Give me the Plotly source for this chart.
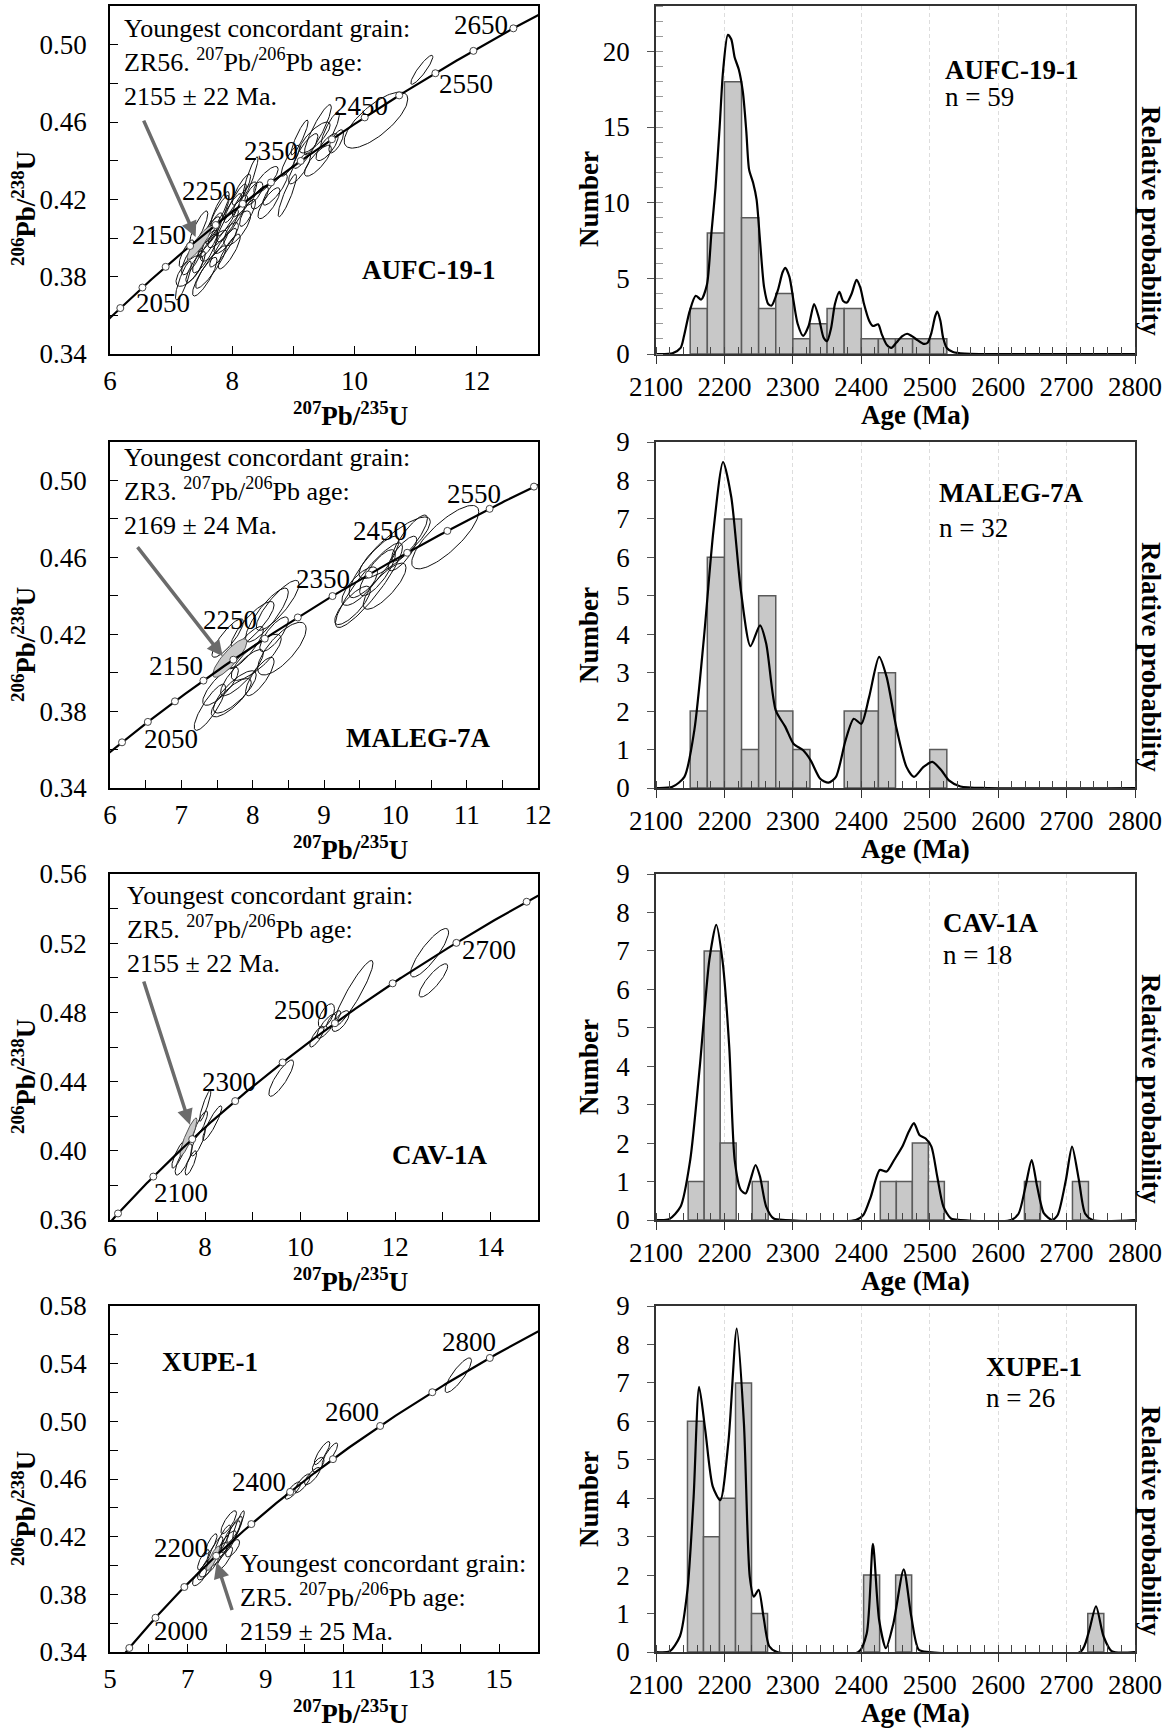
import numpy as np
import plotly.graph_objects as go

W, H = 1167, 1730
FONT = "Liberation Serif"

# U decay constants (1/yr) for the Wetherill concordia
L238 = 1.55125e-10
L235 = 9.8485e-10

samples = ["AUFC-19-1", "MALEG-7A", "CAV-1A", "XUPE-1"]
n_grains = [59, 32, 18, 26]
youngest_spot = ["ZR56", "ZR3", "ZR5", "ZR5"]
youngest_age = ["2155 ± 22", "2169 ± 24", "2155 ± 22", "2159 ± 25"]

# ---------------- histogram bins (left edge, Ma) and counts ----------------
aufc_bin_left = [2150, 2175, 2200, 2225, 2250, 2275, 2300, 2325, 2350, 2375, 2400, 2425, 2450, 2475, 2500]
aufc_counts = [3, 8, 18, 9, 3, 4, 1, 2, 3, 3, 1, 1, 1, 1, 1]
maleg_bin_left = [2150, 2175, 2200, 2225, 2250, 2275, 2300, 2375, 2400, 2425, 2500]
maleg_counts = [2, 6, 7, 1, 5, 2, 1, 2, 2, 3, 1]
cav_bin_left = [2147.0, 2170.4, 2193.8, 2240.6, 2427.8, 2451.2, 2474.6, 2498.0, 2638.4, 2708.6]
cav_counts = [1, 7, 2, 1, 1, 1, 2, 1, 1, 1]
xupe_bin_left = [2146.0, 2169.4, 2192.8, 2216.2, 2239.6, 2403.4, 2450.2, 2731.0]
xupe_counts = [6, 3, 4, 7, 1, 2, 2, 1]
bin_width = [25.0, 25.0, 23.4, 23.4]

# ---------------- relative probability curves (age Ma, height in count units) ----------------
aufc_pdf_age = [2100, 2124, 2136, 2141, 2149, 2158, 2166, 2174.5, 2181, 2187, 2193, 2198, 2205, 2210,
                2215, 2221, 2227, 2232, 2236, 2242, 2247, 2252, 2258, 2264, 2269, 2278, 2285, 2289,
                2295, 2301, 2307, 2315, 2323, 2331, 2338, 2345, 2350, 2356, 2361.5, 2368, 2373.5,
                2379, 2386, 2393, 2398.5, 2404, 2411.5, 2417, 2424.6, 2430, 2437, 2444, 2451, 2460,
                2467, 2474, 2482.6, 2491, 2497, 2502.5, 2508, 2511, 2515.6, 2519.6, 2525, 2534,
                2551, 2580, 2800]
aufc_pdf_val = [0, 0.05, 0.4, 1.2, 2.8, 3.85, 3.6, 4.6, 8.0, 11.0, 15.0, 18.7, 21.1, 20.8,
                19.6, 18.8, 17.3, 14.7, 12.2, 11.3, 10.2, 7.5, 4.4, 3.3, 3.2, 4.2, 5.4, 5.7,
                5.1, 3.5, 2.0, 1.2, 1.85, 3.3, 2.4, 1.07, 0.85, 1.74, 3.3, 4.1, 3.5,
                3.4, 4.0, 4.9, 4.4, 3.3, 2.2, 1.85, 1.96, 1.3, 0.62, 0.4, 0.74, 1.18,
                1.34, 1.18, 0.9, 0.67, 0.74, 1.4, 2.5, 2.8, 2.2, 1.07, 0.4, 0.13,
                0.02, 0, 0]
maleg_pdf_age = [2100, 2124, 2141.5, 2156, 2170, 2184, 2198, 2210, 2224, 2238, 2252, 2261, 2275,
                 2289, 2301, 2315, 2326, 2340, 2352, 2363, 2377, 2389, 2400, 2411.5, 2426, 2437,
                 2451, 2466, 2477, 2491, 2504, 2517, 2528, 2545, 2585, 2800]
maleg_pdf_val = [0, 0.03, 0.29, 1.5, 3.9, 6.7, 8.48, 7.57, 5.14, 3.69, 4.23, 3.76, 2.02,
                 1.59, 1.15, 0.98, 0.72, 0.24, 0.14, 0.29, 1.24, 1.8, 1.67, 2.37, 3.41, 2.89,
                 1.59, 0.55, 0.29, 0.55, 0.68, 0.46, 0.2, 0.04, 0, 0]
cav_pdf_age = [2100, 2119, 2136, 2150, 2164, 2178, 2188, 2197, 2207, 2215, 2224, 2231, 2238,
               2245.5, 2252, 2261, 2272, 2289, 2392, 2403, 2414, 2427, 2437, 2448, 2460, 2469.5,
               2477, 2485, 2494, 2502.5, 2511, 2520, 2531, 2545, 2619, 2630, 2640, 2649, 2657,
               2667, 2679, 2687, 2699, 2708, 2718, 2727, 2738, 2800]
cav_pdf_val = [0, 0.02, 0.35, 1.56, 3.99, 6.77, 7.68, 6.77, 4.51, 1.56, 0.78, 0.69, 1.04,
               1.43, 1.13, 0.35, 0.04, 0, 0, 0.13, 0.61, 1.3, 1.26, 1.56, 1.91, 2.3,
               2.52, 2.21, 2.12, 1.91, 1.13, 0.35, 0.04, 0, 0, 0.17, 0.87, 1.56, 0.87,
               0.17, 0, 0.13, 1.04, 1.91, 1.04, 0.17, 0, 0]
xupe_pdf_age = [2100, 2120, 2135, 2146, 2155, 2163, 2172, 2183, 2194, 2206, 2218, 2228.5, 2237,
                2243, 2250, 2257, 2265.5, 2277, 2396, 2408, 2417, 2426, 2436, 2447, 2462, 2473,
                2484, 2499, 2720, 2732, 2743, 2754, 2766, 2800]
xupe_pdf_val = [0, 0.02, 0.41, 1.62, 4.04, 6.9, 5.77, 4.3, 3.95, 5.5, 8.41, 5.94, 1.96,
                1.44, 1.62, 0.93, 0.15, 0, 0, 0.49, 2.81, 0.84, 0.1, 0.75, 2.15, 0.93,
                0.06, 0, 0, 0.49, 1.19, 0.41, 0.02, 0]

# ---------------- concordia analyses: (207Pb/235U, 206Pb/238U, 2s 7/35, 2s 6/38, rho) ----------------
aufc_spots = [
    (7.20, 0.378, 0.13, 0.010, 0.85), (7.35, 0.390, 0.18, 0.009, 0.80), (7.30, 0.383, 0.22, 0.008, 0.70),
    (7.55, 0.392, 0.20, 0.010, 0.85), (7.62, 0.402, 0.18, 0.009, 0.85), (7.70, 0.396, 0.22, 0.008, 0.80),
    (7.75, 0.410, 0.20, 0.012, 0.90), (7.85, 0.405, 0.25, 0.010, 0.85), (7.80, 0.415, 0.15, 0.009, 0.85),
    (7.95, 0.412, 0.20, 0.011, 0.90), (7.90, 0.400, 0.20, 0.008, 0.80), (8.05, 0.418, 0.18, 0.010, 0.90),
    (8.08, 0.405, 0.22, 0.009, 0.75), (8.15, 0.425, 0.15, 0.008, 0.85), (7.65, 0.385, 0.25, 0.011, 0.90),
    (7.45, 0.405, 0.15, 0.009, 0.85), (8.25, 0.413, 0.13, 0.007, 0.80), (7.95, 0.393, 0.18, 0.009, 0.85),
    (7.55, 0.380, 0.20, 0.010, 0.85), (8.35, 0.423, 0.15, 0.006, 0.70), (8.55, 0.430, 0.20, 0.007, 0.80),
    (8.70, 0.425, 0.20, 0.008, 0.85), (8.90, 0.422, 0.15, 0.011, 0.90), (8.60, 0.418, 0.18, 0.008, 0.80),
    (8.95, 0.440, 0.15, 0.008, 0.85), (9.20, 0.445, 0.20, 0.009, 0.85), (9.35, 0.452, 0.25, 0.008, 0.80),
    (9.40, 0.440, 0.22, 0.008, 0.80), (9.40, 0.456, 0.22, 0.013, 0.90), (9.10, 0.452, 0.14, 0.009, 0.90),
    (9.55, 0.447, 0.18, 0.007, 0.75), (9.10, 0.436, 0.18, 0.008, 0.80), (9.60, 0.456, 0.15, 0.009, 0.85),
    (10.35, 0.461, 0.52, 0.0145, 0.75), (11.10, 0.487, 0.18, 0.0075, 0.90), (8.30, 0.432, 0.12, 0.010, 0.90),
    (9.70, 0.450, 0.12, 0.006, 0.70), (7.25, 0.392, 0.12, 0.007, 0.80), (8.45, 0.421, 0.14, 0.006, 0.70),
    (7.40, 0.385, 0.16, 0.008, 0.85), (7.60, 0.397, 0.16, 0.007, 0.80), (7.85, 0.395, 0.22, 0.010, 0.90),
    (8.00, 0.410, 0.25, 0.012, 0.90), (7.70, 0.405, 0.14, 0.008, 0.80), (8.20, 0.420, 0.20, 0.009, 0.85),
]
maleg_spots = [
    (7.40, 0.382, 0.22, 0.012, 0.85), (7.55, 0.393, 0.25, 0.010, 0.80), (7.75, 0.390, 0.30, 0.011, 0.80),
    (7.85, 0.400, 0.30, 0.012, 0.85), (7.90, 0.413, 0.25, 0.011, 0.85), (8.05, 0.408, 0.35, 0.012, 0.80),
    (8.00, 0.425, 0.30, 0.012, 0.85), (8.20, 0.430, 0.30, 0.014, 0.85), (8.35, 0.435, 0.30, 0.013, 0.85),
    (8.41, 0.4125, 0.34, 0.0137, 0.75), (8.10, 0.398, 0.20, 0.010, 0.80), (7.65, 0.418, 0.22, 0.010, 0.85),
    (8.30, 0.420, 0.20, 0.009, 0.80), (7.70, 0.387, 0.28, 0.010, 0.80), (9.63, 0.4455, 0.47, 0.022, 0.90),
    (9.70, 0.455, 0.35, 0.016, 0.85), (9.99, 0.465, 0.50, 0.016, 0.85), (9.75, 0.452, 0.25, 0.012, 0.80),
    (10.10, 0.462, 0.20, 0.009, 0.80), (9.50, 0.445, 0.25, 0.010, 0.75), (9.85, 0.445, 0.30, 0.012, 0.80),
    (10.70, 0.4705, 0.47, 0.0165, 0.80), (9.40, 0.435, 0.25, 0.010, 0.80), (10.20, 0.470, 0.25, 0.012, 0.85),
]
cav_spots = [
    (7.45, 0.398, 0.15, 0.008, 0.85), (7.55, 0.395, 0.18, 0.009, 0.80), (7.70, 0.393, 0.12, 0.007, 0.80),
    (7.90, 0.415, 0.15, 0.008, 0.85), (8.00, 0.426, 0.12, 0.009, 0.90), (8.15, 0.416, 0.20, 0.010, 0.90),
    (7.85, 0.405, 0.15, 0.008, 0.80), (9.60, 0.442, 0.26, 0.0105, 0.85), (10.35, 0.466, 0.15, 0.006, 0.80),
    (10.55, 0.472, 0.20, 0.007, 0.80), (10.70, 0.476, 0.15, 0.005, 0.80), (10.85, 0.475, 0.18, 0.006, 0.70),
    (10.55, 0.478, 0.17, 0.007, 0.60), (11.12, 0.491, 0.41, 0.019, 0.92), (12.72, 0.5145, 0.40, 0.014, 0.85),
    (12.80, 0.4985, 0.30, 0.0096, 0.85),
]
xupe_spots = [
    (7.30, 0.392, 0.18, 0.006, 0.70), (7.45, 0.397, 0.20, 0.007, 0.75), (7.55, 0.400, 0.25, 0.008, 0.80),
    (7.70, 0.410, 0.20, 0.010, 0.85), (7.80, 0.408, 0.22, 0.008, 0.80), (7.90, 0.418, 0.20, 0.010, 0.85),
    (8.00, 0.415, 0.25, 0.009, 0.80), (8.10, 0.420, 0.25, 0.011, 0.85), (8.20, 0.425, 0.20, 0.009, 0.85),
    (8.30, 0.428, 0.15, 0.010, 0.90), (7.60, 0.415, 0.15, 0.007, 0.80), (7.95, 0.405, 0.20, 0.008, 0.80),
    (8.15, 0.412, 0.18, 0.006, 0.70), (7.40, 0.404, 0.15, 0.007, 0.80), (8.05, 0.430, 0.20, 0.008, 0.80),
    (9.70, 0.452, 0.20, 0.006, 0.80), (9.95, 0.457, 0.20, 0.0065, 0.80), (10.20, 0.462, 0.20, 0.006, 0.80),
    (10.45, 0.478, 0.20, 0.008, 0.85), (10.65, 0.477, 0.20, 0.008, 0.85), (10.35, 0.470, 0.15, 0.005, 0.60),
    (13.95, 0.532, 0.34, 0.012, 0.85),
]
youngest_spots = [
    (7.46, 0.3975, 0.20, 0.0085, 0.90),
    (7.68, 0.4076, 0.24, 0.0100, 0.85),
    (7.65, 0.4080, 0.18, 0.0110, 0.90),
    (7.65, 0.4050, 0.17, 0.0085, 0.85),
]

# ---------------- concordia age marks and labelled ages ----------------
aufc_marks = [2000, 2050, 2100, 2150, 2200, 2250, 2300, 2350, 2400, 2450, 2500, 2550, 2600, 2650]
maleg_marks = [2000, 2050, 2100, 2150, 2200, 2250, 2300, 2350, 2400, 2450, 2500, 2550, 2600]
cav_marks = [2000, 2100, 2200, 2300, 2400, 2500, 2600, 2700, 2800]
xupe_marks = [1900, 2000, 2100, 2200, 2300, 2400, 2500, 2600, 2700, 2800]

aufc_age_labels = [("2650", 12.07, 0.5102), ("2550", 11.82, 0.4796), ("2450", 10.10, 0.4684),
                   ("2350", 8.64, 0.4450), ("2250", 7.62, 0.4243), ("2150", 6.80, 0.4018),
                   ("2050", 6.86, 0.3666)]
maleg_age_labels = [("2550", 11.10, 0.4928), ("2450", 9.79, 0.4738), ("2350", 8.98, 0.4489),
                    ("2250", 7.68, 0.4274), ("2150", 6.92, 0.4033), ("2050", 6.85, 0.3655)]
cav_age_labels = [("2700", 13.98, 0.5161), ("2500", 10.02, 0.4814), ("2300", 8.51, 0.4400),
                  ("2100", 7.49, 0.3754)]
xupe_age_labels = [("2800", 14.22, 0.5550), ("2600", 11.23, 0.5066), ("2400", 8.84, 0.4581),
                   ("2200", 6.82, 0.4120), ("2000", 6.82, 0.3543)]

# ---------------- per-row assembly ----------------
bins = [(aufc_bin_left, aufc_counts), (maleg_bin_left, maleg_counts),
        (cav_bin_left, cav_counts), (xupe_bin_left, xupe_counts)]
pdfs = [(aufc_pdf_age, aufc_pdf_val), (maleg_pdf_age, maleg_pdf_val),
        (cav_pdf_age, cav_pdf_val), (xupe_pdf_age, xupe_pdf_val)]
spots = [aufc_spots, maleg_spots, cav_spots, xupe_spots]
marks = [aufc_marks, maleg_marks, cav_marks, xupe_marks]
age_labels = [aufc_age_labels, maleg_age_labels, cav_age_labels, xupe_age_labels]

# axis set-up of the concordia panels
con_xrange = [(6, 13), (6, 12), (6, 15), (5, 16)]
con_xstep = [1.0, 0.5, 1.0, 1.0]
con_xlabel_every = [2.0, 1.0, 2.0, 2.0]
con_yrange = [(0.34, 0.52), (0.34, 0.52), (0.36, 0.56), (0.34, 0.58)]
hist_ymax = [23.0, 9.0, 9.0, 9.0]

# arrow (tail x, tail y, head x, head y) in data units, note block placement in pixels
arrows = [(6.54, 0.4615, 7.40, 0.4005), (6.37, 0.4661, 7.58, 0.4085),
          (6.70, 0.4987, 7.68, 0.4150), (8.15, 0.3681, 7.74, 0.4020)]
note_left = [122, 122, 125, 238]
note_center_y = [63, 492, 929, 1597]
con_name_pos = [(428, 270), (418, 738), (440, 1155), (210, 1362)]
hist_name_pos = [(943, 70, 97), (937, 493, 528), (941, 923, 955), (984, 1367, 1398)]

ROW_TOP = [6, 442, 874, 1306]
ROW_BOT = [354, 788, 1220, 1652]
CON_X = (110, 538)
HIS_X = (656, 1135)


def px_x(px):
    return px / W


def px_y(py):
    return 1 - py / H


def ellipse_path(cx, cy, sx, sy, rho, n=90):
    th = np.linspace(0, 2 * np.pi, n)
    x = cx + sx * np.cos(th)
    y = cy + sy * (rho * np.cos(th) + np.sqrt(1 - rho ** 2) * np.sin(th))
    return x, y


def concordia(t_ma):
    t = np.asarray(t_ma, dtype=float) * 1e6
    return np.exp(L235 * t) - 1, np.exp(L238 * t) - 1


TXT = dict(family=FONT, size=27, color="black")
tick_font = dict(family=FONT, size=27, color="black")
fig = go.Figure()
layout = dict(
    width=W, height=H, margin=dict(l=0, r=0, t=0, b=0, autoexpand=False),
    paper_bgcolor="white", plot_bgcolor="white", showlegend=False,
    font=dict(family=FONT, size=27, color="black"),
)
annotations = []


def paper_text(x, y, text, **kw):
    d = dict(x=px_x(x), y=px_y(y), xref="paper", yref="paper", text=text, showarrow=False,
             xanchor="center", yanchor="middle", font=TXT)
    d.update(kw)
    annotations.append(d)


for i in range(4):
    ca, ha = 2 * i + 1, 2 * i + 2
    cx_ref, cy_ref = f"x{ca}", f"y{ca}"
    hx_ref, hy_ref = f"x{ha}", f"y{ha}"
    top, bot = ROW_TOP[i], ROW_BOT[i]

    # ---- concordia panel ----
    ex, ey = [], []
    for s in spots[i]:
        x, y = ellipse_path(*s)
        ex += list(x) + [None]
        ey += list(y) + [None]
    fig.add_trace(go.Scatter(x=ex, y=ey, mode="lines", line=dict(color="#111111", width=1),
                             xaxis=cx_ref, yaxis=cy_ref, hoverinfo="skip"))
    gx, gy = ellipse_path(*youngest_spots[i])
    fig.add_trace(go.Scatter(x=gx, y=gy, mode="lines", fill="toself", fillcolor="#c9c9c9",
                             line=dict(color="#555555", width=1),
                             xaxis=cx_ref, yaxis=cy_ref, hoverinfo="skip"))
    tc = np.linspace(1800, 3000, 400)
    kx, ky = concordia(tc)
    fig.add_trace(go.Scatter(x=kx, y=ky, mode="lines", line=dict(color="black", width=2.2),
                             xaxis=cx_ref, yaxis=cy_ref, hoverinfo="skip"))
    mx, my = concordia(marks[i])
    fig.add_trace(go.Scatter(x=mx, y=my, mode="markers",
                             marker=dict(size=7, color="white", line=dict(color="#444444", width=1)),
                             xaxis=cx_ref, yaxis=cy_ref, hoverinfo="skip"))

    x0, x1 = con_xrange[i]
    xt = np.round(np.arange(x0, x1 + 1e-9, con_xstep[i]), 2)
    xtt = [f"{v:g}" if abs(((v - x0) / con_xlabel_every[i]) - round((v - x0) / con_xlabel_every[i])) < 1e-6 else ""
           for v in xt]
    y0, y1 = con_yrange[i]
    yt = np.round(np.arange(y0, y1 + 1e-9, 0.02), 2)
    ytt = [f"{v:.2f}" if int(round((v - y0) / 0.02)) % 2 == 0 else "" for v in yt]

    layout[f"xaxis{ca}"] = dict(
        domain=[px_x(CON_X[0]), px_x(CON_X[1])], anchor=cy_ref, range=[x0, x1],
        tickvals=list(xt), ticktext=xtt, ticks="inside", ticklen=8, tickcolor="black",
        showline=True, linecolor="black", linewidth=1.5, mirror=True, showgrid=False,
        zeroline=False, tickfont=tick_font, ticklabelstandoff=2, automargin=False)
    layout[f"yaxis{ca}"] = dict(
        domain=[px_y(bot), px_y(top)], anchor=cx_ref, range=[y0, y1],
        tickvals=list(yt), ticktext=ytt, ticks="inside", ticklen=8, tickcolor="black",
        showline=True, linecolor="black", linewidth=1.5, mirror=True, showgrid=False,
        zeroline=False, tickfont=tick_font, ticklabelstandoff=16, automargin=False)

    # ages along the concordia
    for lab, lx, ly in age_labels[i]:
        annotations.append(dict(x=lx, y=ly, xref=cx_ref, yref=cy_ref, text=lab, showarrow=False,
                                font=TXT, xanchor="center", yanchor="middle"))
    # pointer to the youngest concordant grain
    tx, ty, hx, hy = arrows[i]
    annotations.append(dict(x=hx, y=hy, ax=tx, ay=ty, xref=cx_ref, yref=cy_ref,
                            axref=cx_ref, ayref=cy_ref, text="", showarrow=True,
                            arrowhead=2, arrowsize=0.9, arrowwidth=3.5, arrowcolor="#6b6b6b"))
    note = ("Youngest concordant grain:<br>"
            f"{youngest_spot[i]}. <sup>207</sup>Pb/<sup>206</sup>Pb age:<br>"
            f"{youngest_age[i]} Ma.")
    paper_text(note_left[i], note_center_y[i], note, xanchor="left", align="left",
               font=dict(family=FONT, size=26, color="black"))
    nx, ny = con_name_pos[i]
    paper_text(nx, ny, f"<b>{samples[i]}</b>")
    # axis titles of the concordia panel
    paper_text(24, top + 203, "<b><sup>206</sup>Pb/<sup>238</sup>U</b>", textangle=-90)
    paper_text(350, bot + 60, "<b><sup>207</sup>Pb/<sup>235</sup>U</b>")

    # ---- age histogram + probability curve ----
    left, counts = bins[i]
    w = bin_width[i]
    fig.add_trace(go.Bar(x=[l + w / 2 for l in left], y=counts, width=w,
                         marker=dict(color="#c8c8c8", line=dict(color="#5a5a5a", width=1.5)),
                         xaxis=hx_ref, yaxis=hy_ref, hoverinfo="skip"))
    pa, pv = pdfs[i]
    fig.add_trace(go.Scatter(x=pa, y=pv, mode="lines",
                             line=dict(color="black", width=2.2, shape="spline", smoothing=0.7),
                             xaxis=hx_ref, yaxis=hy_ref, hoverinfo="skip"))

    layout[f"xaxis{ha}"] = dict(
        domain=[px_x(HIS_X[0]), px_x(HIS_X[1])], anchor=hy_ref, range=[2100, 2800],
        tickvals=list(range(2100, 2801, 100)), ticks="outside", ticklen=8, tickcolor="#333333",
        minor=dict(tick0=2100, dtick=20, ticks="inside", ticklen=7, tickcolor="#444444",
                   showgrid=False),
        showline=True, linecolor="#333333", linewidth=1.5, mirror=True,
        showgrid=True, gridcolor="#dddddd", griddash="4px,3px", gridwidth=1,
        zeroline=False, tickfont=tick_font, ticklabelstandoff=0, automargin=False)
    if hist_ymax[i] > 10:
        ytv = [0, 5, 10, 15, 20]
        yminor = dict(tick0=0, dtick=1, ticks="inside", ticklen=7, tickcolor="#9a9a9a", showgrid=False)
    else:
        ytv = list(range(0, 10))
        yminor = None
    yax = dict(
        domain=[px_y(bot), px_y(top)], anchor=hx_ref, range=[0, hist_ymax[i]],
        tickvals=ytv, ticks="outside", ticklen=7, tickcolor="#555555",
        showline=True, linecolor="#333333", linewidth=1.5, mirror=True, showgrid=False,
        zeroline=False, tickfont=tick_font, ticklabelstandoff=12, automargin=False)
    if yminor:
        yax["minor"] = yminor
    layout[f"yaxis{ha}"] = yax

    hnx, hny1, hny2 = hist_name_pos[i]
    paper_text(hnx, hny1, f"<b>{samples[i]}</b>", xanchor="left")
    paper_text(hnx, hny2, f"n = {n_grains[i]}", xanchor="left")
    paper_text(589, top + 193, "<b>Number</b>", textangle=-90)
    paper_text(1151, top + 215, "<b>Relative probability</b>", textangle=90)
    paper_text(915, bot + 61, "<b>Age (Ma)</b>")

layout["annotations"] = annotations
fig.update_layout(**layout)
fig.write_html("out.html")
